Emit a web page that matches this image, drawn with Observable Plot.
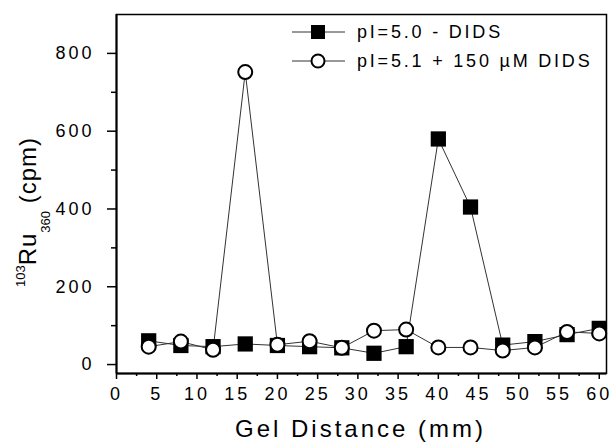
<!DOCTYPE html>
<html><head><meta charset="utf-8">
<script src="https://cdn.jsdelivr.net/npm/d3@7"></script>
<script src="https://cdn.jsdelivr.net/npm/@observablehq/plot@0.6"></script>
<style>
html,body{margin:0;padding:0;background:#fff;}
</style>
</head><body><div id="chart"></div>
<script>
const distance = [4, 8, 12, 16, 20, 24, 28, 32, 36, 40, 44, 48, 52, 56, 60];
const seriesA = [61, 49, 46, 53, 49, 46, 43, 29, 46, 580, 405, 50, 59, 77, 93];
const seriesB = [46, 59, 38, 752, 51, 60, 43, 87, 90, 44, 44, 36, 44, 84, 80];
const seriesNames = ["pI=5.0 - DIDS", "pI=5.1 + 150 \u00B5M DIDS"];
const xTicks = d3.range(0, 61, 5);
const xMinor = d3.range(2.5, 61, 5);
const yTicks = [0, 200, 400, 600, 800];
const yMinor = [100, 300, 500, 700];
const xDomain = [0, 60.9];
const yDomain = [-23, 900];
const xTitle = "Gel Distance (mm)";

const dataA = distance.map((d, i) => ({x: d, y: seriesA[i]}));
const dataB = distance.map((d, i) => ({x: d, y: seriesB[i]}));

const chart = Plot.plot({
  width: 611, height: 442,
  marginLeft: 116, marginRight: 5, marginTop: 14, marginBottom: 69,
  style: {fontFamily: '"Liberation Sans", Arial, sans-serif', fontSize: "18px", letterSpacing: "3px", color: "#000", background: "#fff", overflow: "visible"},
  x: {domain: xDomain, label: null},
  y: {domain: yDomain, label: null},
  marks: [
    Plot.line(dataA, {x: "x", y: "y", stroke: "#333", strokeWidth: 1}),
    Plot.line(dataB, {x: "x", y: "y", stroke: "#333", strokeWidth: 1}),
    Plot.dot(dataA, {x: "x", y: "y", symbol: "square", r: 8.6, fill: "#000", stroke: "none"}),
    Plot.dot(dataB, {x: "x", y: "y", r: 7, fill: "#fff", stroke: "#000", strokeWidth: 2}),
    Plot.frame({stroke: "#000", strokeWidth: 1.5}),
    Plot.ruleX([xDomain[0]], {stroke: "#000", strokeWidth: 2}),
    Plot.ruleY([yDomain[0]], {stroke: "#000", strokeWidth: 2}),
    Plot.axisX(xTicks, {tickSize: 6, tickPadding: 8, strokeWidth: 1.5, label: null}),
    Plot.axisX(xMinor, {tickSize: 3, strokeWidth: 1.5, fill: "none", tickFormat: () => "", label: null}),
    Plot.axisY(yTicks, {tickSize: 9, tickPadding: 13, strokeWidth: 1.5, label: null}),
    Plot.axisY(yMinor, {tickSize: 5, strokeWidth: 1.5, fill: "none", tickFormat: () => "", label: null})
  ]
});
document.getElementById("chart").appendChild(chart);

const svg = d3.select(chart);
// x title
svg.append("text")
  .attr("x", 360.5).attr("y", 437)
  .attr("text-anchor", "middle")
  .style("font-size", "24px").style("letter-spacing", "3px")
  .attr("fill", "#000")
  .text(xTitle);

// y title with super/subscripts
const yt = svg.append("text")
  .attr("transform", "translate(36,212) rotate(-90)")
  .attr("text-anchor", "middle")
  .attr("fill", "#000")
  .style("font-size", "24px").style("letter-spacing", "1px");
yt.append("tspan").style("font-size", "13px").style("letter-spacing", "0px").attr("dy", -11).text("103");
yt.append("tspan").attr("dy", 11).text("Ru");
yt.append("tspan").style("font-size", "13px").style("letter-spacing", "0px").attr("dy", 14).text("360");
yt.append("tspan").attr("dy", -14).text(" (cpm)");

// legend
const legendRows = [32, 61];
const lg = svg.append("g");
legendRows.forEach((ry, i) => {
  lg.append("line").attr("x1", 292).attr("x2", 345).attr("y1", ry).attr("y2", ry)
    .attr("stroke", "#333").attr("stroke-width", 1);
  if (i === 0) {
    lg.append("rect").attr("x", 318 - 7).attr("y", ry - 7).attr("width", 14).attr("height", 14).attr("fill", "#000");
  } else {
    lg.append("circle").attr("cx", 318).attr("cy", ry).attr("r", 6.5).attr("fill", "#fff").attr("stroke", "#000").attr("stroke-width", 2);
  }
  lg.append("text").attr("x", 357).attr("y", ry).attr("dy", "0.36em")
    .attr("fill", "#000")
    .attr("text-anchor", "start")
    .style("font-size", "18px").style("letter-spacing", "2.8px")
    .text(seriesNames[i]);
});
</script>
</body></html>
